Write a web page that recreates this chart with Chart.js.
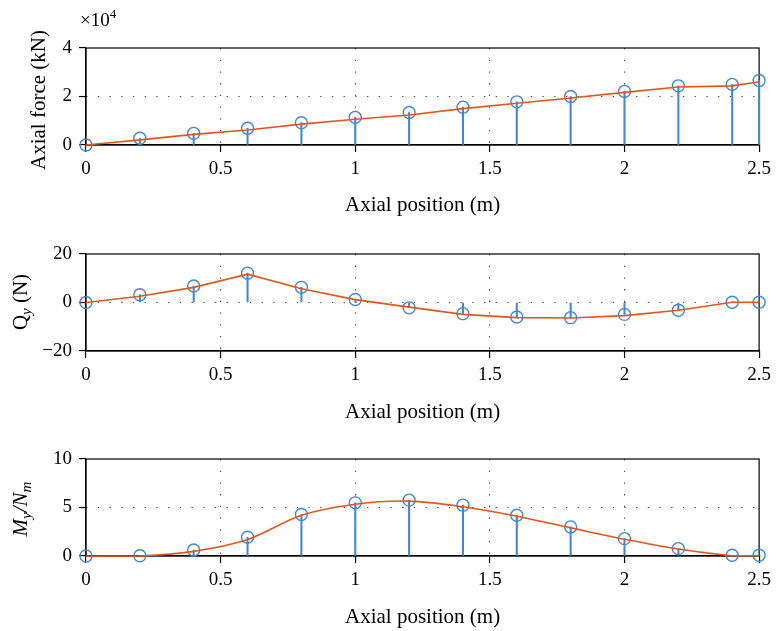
<!DOCTYPE html>
<html><head><meta charset="utf-8">
<script src="https://cdn.jsdelivr.net/npm/chart.js@4.4.0/dist/chart.umd.min.js"></script>
<style>
html,body{margin:0;padding:0;background:#fff;width:777px;height:631px;overflow:hidden}
canvas{position:absolute;left:0}
</style></head><body>
<canvas id="c1" width="777" height="225" style="top:0px"></canvas>
<canvas id="c2" width="777" height="207" style="top:225px"></canvas>
<canvas id="c3" width="777" height="199" style="top:432px"></canvas>
<script>
// ---- data ----
const positions = [0, 0.2, 0.4, 0.6, 0.8, 1.0, 1.2, 1.4, 1.6, 1.8, 2.0, 2.2, 2.4, 2.5];
const xTickValues = [0, 0.5, 1, 1.5, 2, 2.5];

const axialForceStems = [0, 2800, 4800, 6900, 9200, 11400, 13400, 15600, 17800, 20000, 22100, 24400, 25000, 26600];
const axialForceCurve = [0, 2100, 4400, 6200, 8600, 10600, 12400, 15000, 17200, 19400, 21700, 23900, 24400, 26100];
const axialTickValues = [0, 20000, 40000];

const shearStems = [0, 3.2, 6.8, 12.1, 6.25, 1.25, -2.2, -4.6, -6.0, -6.25, -4.9, -3.2, 0.1, 0.1];
const shearCurve = [0, 2.6, 6.25, 11.7, 5.7, 1.2, -1.9, -4.9, -6.25, -6.4, -5.4, -3.2, 0.1, 0.1];
const shearTickValues = [-20, 0, 20];

const momentStems = [0, 0.03, 0.62, 1.93, 4.28, 5.48, 5.76, 5.24, 4.2, 3.0, 1.79, 0.76, 0.07, 0.07];
const momentCurve = [0, 0, 0.48, 1.7, 4.2, 5.34, 5.66, 5.07, 4.1, 2.9, 1.72, 0.72, 0.03, 0.03];
const momentTickValues = [0, 5, 10];

const xTitle = 'Axial position (m)';

// ---- style ----
const BLUE = '#4089d0';
const ORANGE = '#e4571c';
const SERIF = '"Liberation Serif", "DejaVu Serif", serif';
const TICK_FONT = {family: SERIF, size: 19};
const TITLE_FONT = {family: SERIF, size: 21};

function pts(ys){ return positions.map((x,i)=>({x:x, y:ys[i]})); }

const framePlugin = {
  id: 'frame',
  beforeDatasetsDraw(chart){
    const a = chart.chartArea, ctx = chart.ctx;
    ctx.save();
    ctx.strokeStyle = '#000';
    ctx.lineWidth = 1.2;
    ctx.strokeRect(a.left, a.top, a.right - a.left, a.bottom - a.top);
    ctx.restore();
  }
};

function richTextPlugin(pieces, baseX, centerY, rotate){
  return {
    id: 'richText',
    afterDraw(chart){
      const ctx = chart.ctx;
      ctx.save();
      let total = 0;
      const meas = pieces.map(p=>{
        ctx.font = (p.italic?'italic ':'') + p.size + 'px ' + SERIF;
        const w = ctx.measureText(p.text).width;
        total += w; return w;
      });
      ctx.translate(baseX, centerY);
      if (rotate) ctx.rotate(-Math.PI/2);
      ctx.fillStyle = '#000';
      ctx.textBaseline = 'alphabetic';
      ctx.textAlign = 'left';
      let u = rotate ? -total/2 : 0;
      pieces.forEach((p,i)=>{
        ctx.font = (p.italic?'italic ':'') + p.size + 'px ' + SERIF;
        ctx.fillText(p.text, u, p.dy || 0);
        u += meas[i];
      });
      ctx.restore();
    }
  };
}

function makeChart(id, cfg){
  const H = cfg.height;
  const interiorX = v => v > 0.001 && v < 2.499;
  return new Chart(document.getElementById(id), {
    type: 'scatter',
    data: {
      datasets: [
        {
          type: 'line', data: pts(cfg.curve), borderColor: ORANGE, borderWidth: 1.6,
          pointRadius: 0, fill: false, tension: cfg.smooth ? 0.3 : 0,
          order: 0, clip: false
        },
        {
          type: 'scatter', data: pts(cfg.stems), borderColor: BLUE, backgroundColor: 'rgba(0,0,0,0)',
          pointRadius: 6, pointBorderWidth: 1.4, pointStyle: 'circle', showLine: false, order: 1, clip: false
        },
        {
          type: 'bar', data: pts(cfg.stems), backgroundColor: BLUE, borderWidth: 0,
          barThickness: 1.4, order: 2, clip: false
        }
      ]
    },
    options: {
      responsive: false, animation: false, devicePixelRatio: 1,
      layout: {padding: {top: cfg.plotTop, right: 13, left: 0, bottom: 0}},
      plugins: {legend: {display: false}, tooltip: {enabled: false}},
      scales: {
        x: {
          type: 'linear', min: 0, max: 2.5, offset: false,
          afterBuildTicks: s => { s.ticks = xTickValues.map(v=>({value:v})); },
          afterFit: s => { s.height = H - cfg.plotBottom; },
          ticks: {font: TICK_FONT, color: '#000', padding: 6, autoSkip: false, maxRotation: 0,
                  callback: v => String(+(+v).toFixed(1))},
          grid: {
            offset: false,
            color: c => (c.tick && interiorX(c.tick.value)) ? '#444' : 'rgba(0,0,0,0)',
            lineWidth: 1.1, drawTicks: true, tickLength: 7, tickColor: '#000', tickWidth: 1.2,
            tickBorderDash: []
          },
          border: {display: true, color: '#000', width: 1.2, dash: [1.3, 10.4]},
          title: {display: true, text: xTitle, font: TITLE_FONT, color: '#000',
                  padding: {top: 0, bottom: cfg.titlePad}}
        },
        y: {
          type: 'linear', min: cfg.yMin, max: cfg.yMax, offset: false,
          afterBuildTicks: s => { s.ticks = cfg.yTicks.map(v=>({value:v})); },
          afterFit: s => { s.width = 86; },
          ticks: {font: TICK_FONT, color: '#000', padding: 7,
                  callback: v => cfg.fmt(v)},
          grid: {
            offset: false,
            color: c => (c.tick && c.tick.value === cfg.gridY) ? '#444' : 'rgba(0,0,0,0)',
            lineWidth: 1.1, drawTicks: true, tickLength: 7, tickColor: '#000', tickWidth: 1.2,
            tickBorderDash: []
          },
          border: {display: true, color: '#000', width: 1.2, dash: [1.3, 10.4]},
          title: {display: false}
        }
      }
    },
    plugins: [framePlugin].concat(cfg.extra)
  });
}

const minus = s => s.replace('-', '\u2212');

makeChart('c1', {
  height: 225, plotTop: 48, plotBottom: 145, titlePad: 7,
  stems: axialForceStems, curve: axialForceCurve,
  yMin: 0, yMax: 40000, yTicks: axialTickValues, gridY: 20000,
  fmt: v => String(v/10000), smooth: false,
  extra: [
    richTextPlugin([{text:'Axial force (kN)', size:21}], 45, 100, true),
    richTextPlugin([{text:'\u00d710', size:19}, {text:'4', size:13, dy:-8}], 80, 26, false)
  ]
});

makeChart('c2', {
  height: 207, plotTop: 29, plotBottom: 126, titlePad: 7,
  stems: shearStems, curve: shearCurve,
  yMin: -20, yMax: 20, yTicks: shearTickValues, gridY: 0,
  fmt: v => minus(String(v)), smooth: false,
  extra: [
    richTextPlugin([{text:'Q', size:21}, {text:'y', size:15, italic:true, dy:4}, {text:' (N)', size:21}], 27, 77, true)
  ]
});

makeChart('c3', {
  height: 199, plotTop: 27, plotBottom: 124, titlePad: 1,
  stems: momentStems, curve: momentCurve,
  yMin: 0, yMax: 10, yTicks: momentTickValues, gridY: 5,
  fmt: v => String(v), smooth: true,
  extra: [
    richTextPlugin([{text:'M', size:21, italic:true}, {text:'y', size:15, italic:true, dy:4},
                    {text:'/', size:21, italic:true}, {text:'N', size:21, italic:true},
                    {text:'m', size:15, italic:true, dy:4}], 27, 77, true)
  ]
});
</script>
</body></html>
